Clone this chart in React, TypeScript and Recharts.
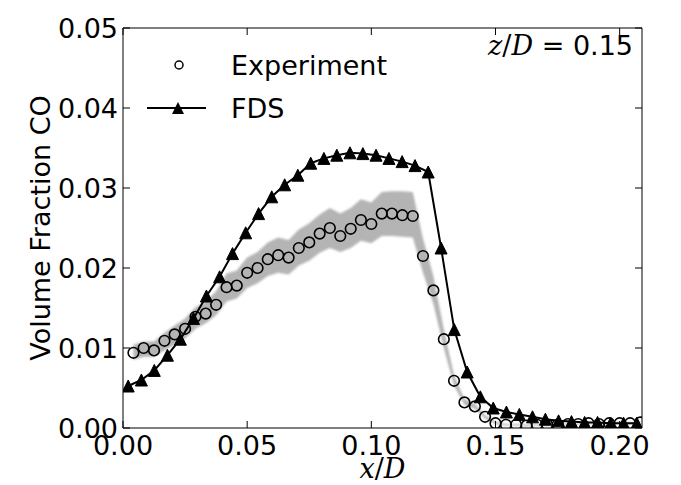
import { ComposedChart, Area, Line, Scatter, XAxis, YAxis, Legend } from 'recharts';

// Experiment: x/D positions and CO volume fraction, with the grey uncertainty band
const expX = [
  0.0042, 0.0083, 0.0125, 0.0167, 0.0208, 0.025, 0.0292, 0.0333, 0.0375, 0.0417,
  0.0458, 0.05, 0.0542, 0.0583, 0.0625, 0.0667, 0.0708, 0.075, 0.0792, 0.0833,
  0.0875, 0.0917, 0.0958, 0.1, 0.1042, 0.1083, 0.1125, 0.1167, 0.1208, 0.125,
  0.1292, 0.1333, 0.1375, 0.1417, 0.1458, 0.15, 0.1542, 0.1583, 0.1625, 0.1667,
  0.1708, 0.175, 0.1792, 0.1833, 0.1875, 0.1917, 0.1958, 0.2, 0.2042, 0.2083,
];
const expY = [
  0.0094, 0.01, 0.0097, 0.0109, 0.0117, 0.0124, 0.0139, 0.0143, 0.0154, 0.0176,
  0.0178, 0.0194, 0.02, 0.0211, 0.0216, 0.0213, 0.0225, 0.0232, 0.0243, 0.025,
  0.024, 0.0249, 0.026, 0.0255, 0.0268, 0.0268, 0.0266, 0.0265, 0.0215, 0.0172,
  0.0111, 0.0059, 0.0032, 0.0027, 0.0014, 0.0006, 0.0004, 0.0004, 0.0003, 0.0004,
  0.0004, 0.0004, 0.0005, 0.0005, 0.0006, 0.0005, 0.0006, 0.0006, 0.0006, 0.0007,
];
const expLow = [
  0.0085, 0.0089, 0.0089, 0.0097, 0.0104, 0.0112, 0.0124, 0.0131, 0.0141, 0.0158,
  0.0162, 0.0175, 0.0181, 0.019, 0.0194, 0.0192, 0.0203, 0.0209, 0.0219, 0.0225,
  0.022, 0.0225, 0.0234, 0.0231, 0.024, 0.024, 0.0239, 0.0238, 0.0194, 0.0155,
  0.01, 0.0053, 0.0029, 0.0024, 0.0012, 0.0005, 0.0003, 0.0003, 0.0002, 0.0003,
  0.0003, 0.0003, 0.0004, 0.0004, 0.0005, 0.0004, 0.0005, 0.0005, 0.0005, 0.0006,
];
const expHigh = [
  0.0104, 0.0108, 0.0108, 0.0119, 0.0128, 0.0137, 0.0151, 0.0158, 0.0171, 0.0193,
  0.0197, 0.0213, 0.022, 0.0232, 0.0238, 0.0235, 0.0248, 0.0256, 0.0267, 0.0275,
  0.0268, 0.0275, 0.0286, 0.0282, 0.0295, 0.0296, 0.0296, 0.0295, 0.0237, 0.019,
  0.0123, 0.0066, 0.0036, 0.003, 0.0016, 0.0008, 0.0005, 0.0005, 0.0004, 0.0005,
  0.0005, 0.0005, 0.0006, 0.0006, 0.0007, 0.0006, 0.0007, 0.0007, 0.0007, 0.0008,
];

// FDS prediction
const fdsX = [
  0.0021, 0.0074, 0.0126, 0.0179, 0.0231, 0.0284, 0.0336, 0.0389, 0.0441, 0.0494,
  0.0546, 0.0599, 0.0651, 0.0704, 0.0756, 0.0809, 0.0861, 0.0914, 0.0966, 0.1019,
  0.1071, 0.1124, 0.1176, 0.1229, 0.1281, 0.1334, 0.1386, 0.1439, 0.1491, 0.1544,
  0.1596, 0.1649, 0.1701, 0.1754, 0.1806, 0.1859, 0.1911, 0.1964, 0.2016, 0.2069,
];
const fdsY = [
  0.00525, 0.006, 0.0072, 0.0091, 0.0111, 0.0137, 0.0165, 0.0189, 0.0218, 0.0244,
  0.0268, 0.0289, 0.0304, 0.0316, 0.0331, 0.0337, 0.0341, 0.0344, 0.0343, 0.0341,
  0.0337, 0.0333, 0.0328, 0.032, 0.0225, 0.0123, 0.007, 0.0039, 0.0025, 0.002,
  0.0017, 0.0014, 0.0011, 0.0009, 0.0008, 0.0007, 0.0007, 0.0006, 0.0006, 0.0006,
];

const xTicks = [0, 0.05, 0.1, 0.15, 0.2];
const yTicks = [0, 0.01, 0.02, 0.03, 0.04, 0.05];

const expData = expX.map((x, i) => ({ x, y: expY[i], band: [expLow[i], expHigh[i]] }));
const fdsData = fdsX.map((x, i) => ({ x, y: fdsY[i] }));

const FONT = '"DejaVu Sans", sans-serif';
const SERIF = '"DejaVu Serif", serif';

function triangle(cx: number, cy: number, s: number) {
  return `${cx},${cy - s / 2} ${cx - s / 2},${cy + s / 2} ${cx + s / 2},${cy + s / 2}`;
}

const TriangleDot = (p: any) => (
  <polygon key={`t-${p.index}`} points={triangle(p.cx, p.cy, 12)} fill="#000" stroke="#000" strokeWidth={1} />
);

const CircleDot = (p: any) => (
  <circle cx={p.cx} cy={p.cy} r={5.3} fill="none" stroke="#000" strokeWidth={1.6} />
);

function Overlay() {
  return (
    <svg width={681} height={485} style={{ position: 'absolute', left: 0, top: 0 }}>
      <circle cx={179} cy={65} r={4} fill="none" stroke="#000" strokeWidth={1.5} />
      <text x={231} y={75} fontFamily={FONT} fontSize={27} fill="#000">Experiment</text>
      <line x1={147} x2={206} y1={108} y2={108} stroke="#000" strokeWidth={2} />
      <polygon points={triangle(178, 108, 12)} fill="#000" />
      <text x={231} y={118} fontFamily={FONT} fontSize={27} fill="#000">FDS</text>
      <text x={633} y={55} textAnchor="end" fontSize={27} fill="#000" fontFamily={FONT}>
        <tspan fontFamily={SERIF} fontStyle="italic">z</tspan>
        <tspan fontFamily={SERIF}>/</tspan>
        <tspan fontFamily={SERIF} fontStyle="italic">D</tspan>
        <tspan> = 0.15</tspan>
      </text>
    </svg>
  );
}

const XLabel = (props: any) => {
  const vb = props.viewBox;
  return (
    <text x={vb.x + vb.width / 2} y={478} textAnchor="middle" fontSize={27} fill="#000" fontFamily={SERIF}>
      <tspan fontStyle="italic">x</tspan>
      <tspan>/</tspan>
      <tspan fontStyle="italic">D</tspan>
    </text>
  );
};

export default function App() {
  const tickStyle = { fontSize: 27, fill: '#000', fontFamily: FONT };
  return (
    <div style={{ position: 'absolute', left: 0, top: 0, width: 681, height: 485, background: '#fff' }}>
      <style>{`.co-band path { filter: blur(1.2px); }`}</style>
      <ComposedChart width={681} height={485} margin={{ top: 27, right: 38, bottom: 0, left: 0 }}>
        <XAxis
          xAxisId="b"
          dataKey="x"
          type="number"
          domain={[0, 0.209]}
          ticks={xTicks}
          tickFormatter={(v: number) => v.toFixed(2)}
          tick={tickStyle}
          tickSize={-7}
          tickMargin={15}
          height={57}
          stroke="#000"
          allowDataOverflow
          label={<XLabel />}
        />
        <XAxis
          xAxisId="t"
          orientation="top"
          dataKey="x"
          type="number"
          domain={[0, 0.209]}
          ticks={xTicks}
          tickFormatter={() => ''}
          tickSize={-7}
          height={1}
          stroke="#000"
          allowDataOverflow
        />
        <YAxis
          yAxisId="l"
          dataKey="y"
          type="number"
          domain={[0, 0.05]}
          ticks={yTicks}
          tickFormatter={(v: number) => v.toFixed(2)}
          tick={tickStyle}
          tickSize={-7}
          tickMargin={12}
          width={123}
          stroke="#000"
          allowDataOverflow
          label={{
            value: 'Volume Fraction CO',
            angle: -90,
            position: 'center',
            dx: -21.5,
            style: { fontSize: 27, fill: '#000', fontFamily: FONT },
          }}
        />
        <YAxis
          yAxisId="r"
          orientation="right"
          type="number"
          domain={[0, 0.05]}
          ticks={yTicks}
          tickFormatter={() => ''}
          tickSize={-7}
          width={1}
          stroke="#000"
          allowDataOverflow
        />
        <Legend layout="horizontal" verticalAlign="middle" wrapperStyle={{ position: 'absolute', left: 0, top: 0, width: 681, height: 485, pointerEvents: 'none' }} content={() => <Overlay />} />
        <Area
          xAxisId="b"
          yAxisId="l"
          data={expData}
          dataKey="band"
          type="linear"
          fill="#b4b4b4"
          fillOpacity={1}
          stroke="none"
          className="co-band"
          isAnimationActive={false}
          activeDot={false}
          legendType="none"
        />
        <Scatter
          xAxisId="b"
          yAxisId="l"
          data={expData}
          dataKey="y"
          shape={CircleDot}
          isAnimationActive={false}
          legendType="none"
        />
        <Line
          xAxisId="b"
          yAxisId="l"
          data={fdsData}
          dataKey="y"
          type="linear"
          stroke="#000"
          strokeWidth={2}
          dot={TriangleDot}
          activeDot={false}
          isAnimationActive={false}
          legendType="none"
        />
      </ComposedChart>
    </div>
  );
}
